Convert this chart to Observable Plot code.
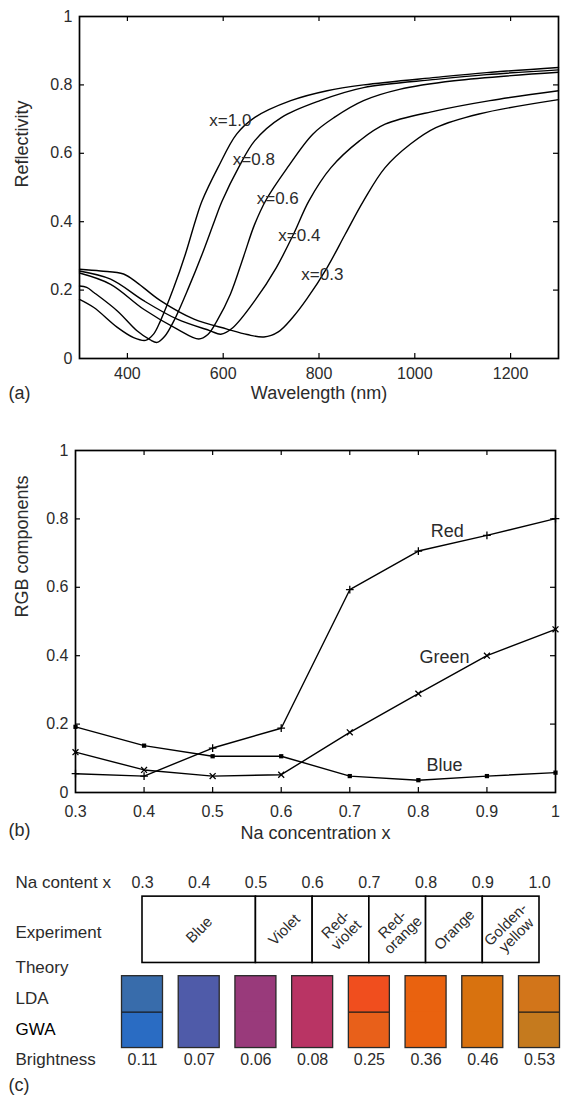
<!DOCTYPE html>
<html>
<head>
<meta charset="utf-8">
<script src="https://cdn.jsdelivr.net/npm/d3@7"></script>
<script src="https://cdn.jsdelivr.net/npm/@observablehq/plot@0.6"></script>
<style>
  body { margin: 0; background: #fff; }
  #wrap { position: relative; width: 567px; height: 1099px; overflow: hidden; background: #fff; }
  .panel { position: absolute; left: 0; }
</style>
</head>
<body>
<div id="wrap">
  <div class="panel" id="pa" style="top:0px"></div>
  <div class="panel" id="pb" style="top:430px"></div>
  <div class="panel" id="pc" style="top:860px"></div>
</div>
<script>
// ---------------- DATA ----------------
// Panel (a): reflectivity curves
const curveNames = ["x=1.0", "x=0.8", "x=0.6", "x=0.4", "x=0.3"];
const wl10 = [300,330,379,413,438,455,469,497,521,542,556,589,628,666,741,817,893,1044,1150,1300];
const r10  = [0.173,0.149,0.091,0.061,0.053,0.072,0.11,0.208,0.305,0.403,0.461,0.558,0.656,0.705,0.754,0.783,0.80,0.822,0.836,0.851];
const wl08 = [300,315,330,379,420,447,462,478,497,528,556,582,598,632,666,722,802,893,1044,1150,1300];
const r08  = [0.212,0.208,0.193,0.139,0.081,0.055,0.047,0.065,0.11,0.208,0.305,0.403,0.461,0.558,0.637,0.705,0.754,0.792,0.816,0.83,0.844];
const wl06 = [300,365,434,504,549,568,587,615,643,665,690,734,787,832,893,968,1082,1300];
const r06  = [0.25,0.217,0.144,0.086,0.057,0.07,0.11,0.188,0.30,0.39,0.465,0.558,0.656,0.705,0.754,0.787,0.812,0.837];
const wl04 = [300,365,434,504,573,595,620,666,711,747,779,825,885,938,1044,1157,1300];
const r04  = [0.256,0.232,0.169,0.115,0.081,0.071,0.09,0.169,0.266,0.364,0.461,0.558,0.637,0.685,0.724,0.754,0.783];
const wl03 = [300,344,392,420,469,539,608,650,685,715,745,775,817,855,893,938,991,1044,1134,1300];
const r03  = [0.261,0.256,0.247,0.222,0.169,0.115,0.086,0.07,0.063,0.078,0.12,0.175,0.266,0.364,0.461,0.558,0.627,0.675,0.715,0.757];
const curveLabelWl = [571, 620, 670, 715, 763];
const curveLabelR  = [0.695, 0.581, 0.467, 0.36, 0.246];
const xTicksA = [400, 600, 800, 1000, 1200];
const yTicksA = [0, 0.2, 0.4, 0.6, 0.8, 1];

// Panel (b): RGB components
const naConc    = [0.3, 0.4, 0.5, 0.6, 0.7, 0.8, 0.9, 1.0];
const redComp   = [0.055, 0.048, 0.130, 0.188, 0.593, 0.706, 0.752, 0.801];
const greenComp = [0.118, 0.066, 0.048, 0.052, 0.176, 0.289, 0.400, 0.477];
const blueComp  = [0.192, 0.137, 0.106, 0.106, 0.048, 0.036, 0.048, 0.058];
const seriesNames = ["Red", "Green", "Blue"];
const seriesLabelX = [0.842, 0.838, 0.838];
const seriesLabelY = [0.764, 0.396, 0.080];
const xTicksB = [0.3, 0.4, 0.5, 0.6, 0.7, 0.8, 0.9, 1];
const yTicksB = [0, 0.2, 0.4, 0.6, 0.8, 1];

// Panel (c): colour table
const naContent = ["0.3", "0.4", "0.5", "0.6", "0.7", "0.8", "0.9", "1.0"];
const expNames = ["Blue", "Violet", "Red-\nviolet", "Red-\norange", "Orange", "Golden-\nyellow"];
const expFrom  = [0.3, 0.5, 0.6, 0.7, 0.8, 0.9];
const expTo    = [0.5, 0.6, 0.7, 0.8, 0.9, 1.0];
const ldaColors = ["#386cab", "#4f5ba9", "#993a7b", "#b93464", "#f04e1e", "#e9620f", "#d8720f", "#d2751a"];
const gwaColors = ["#2a6cc3", "#4f5ba9", "#993a7b", "#b93464", "#e8601a", "#e9620f", "#d8720f", "#c57a1e"];
const brightness = ["0.11", "0.07", "0.06", "0.08", "0.25", "0.36", "0.46", "0.53"];
const rowNames = ["Na content x", "Experiment", "Theory", "LDA", "GWA", "Brightness"];

// ---------------- STYLE ----------------
const FONT = "'Liberation Sans', Arial, Helvetica, sans-serif";
const INK = "#2b2b2b";
const NUM = 16;   // numbers
const WORD = 18;  // words
const baseStyle = {fontFamily: FONT, fontSize: "16px", color: INK, background: "transparent", overflow: "visible"};
const fmt = d => `${d}`;

// ---------------- PANEL (a) ----------------
{
  const W = 567, H = 410, mL = 79, mR = 9, mT = 16, mB = 52;
  const tlx = 5 * 1000 / (W - mL - mR);
  const tly = 5 * 1 / (H - mT - mB);
  const curves = [];
  [[wl10, r10], [wl08, r08], [wl06, r06], [wl04, r04], [wl03, r03]].forEach(([w, r], k) => {
    w.forEach((v, i) => curves.push({name: curveNames[k], wl: v, r: r[i]}));
  });
  const labels = curveNames.map((t, i) => ({t, wl: curveLabelWl[i], r: curveLabelR[i]}));
  const inner = yTicksA.filter(d => d > 0 && d < 1);
  const chart = Plot.plot({
    width: W, height: H, marginLeft: mL, marginRight: mR, marginTop: mT, marginBottom: mB,
    style: baseStyle,
    x: {domain: [300, 1300]},
    y: {domain: [0, 1]},
    marks: [
      Plot.axisX(xTicksA, {tickSize: 0, tickPadding: 9, label: null, tickFormat: fmt, fontSize: NUM, fill: INK}),
      Plot.axisY(yTicksA, {tickSize: 0, tickPadding: 7, label: null, tickFormat: fmt, fontSize: NUM, fill: INK}),
      Plot.ruleX(xTicksA, {x: d => d, y1: 0, y2: tly, stroke: "black", strokeWidth: 1.2}),
      Plot.ruleX(xTicksA, {x: d => d, y1: 1, y2: 1 - tly, stroke: "black", strokeWidth: 1.2}),
      Plot.ruleY(inner, {y: d => d, x1: 300, x2: 300 + tlx, stroke: "black", strokeWidth: 1.2}),
      Plot.ruleY(inner, {y: d => d, x1: 1300, x2: 1300 - tlx, stroke: "black", strokeWidth: 1.2}),
      Plot.line(curves, {x: "wl", y: "r", z: "name", curve: "catmull-rom", stroke: "black", strokeWidth: 1.4}),
      Plot.text(labels, {x: "wl", y: "r", text: "t", textAnchor: "start", fontSize: 17, fill: INK}),
      Plot.frame({stroke: "black", strokeWidth: 1.7}),
      Plot.text(["Wavelength (nm)"], {frameAnchor: "bottom", dy: 40, fontSize: WORD, fill: INK}),
      Plot.text(["Reflectivity"], {frameAnchor: "left", dx: -57, rotate: -90, fontSize: WORD, fill: INK}),
      Plot.text(["(a)"], {frameAnchor: "bottom-left", dx: 8 - mL, dy: 40, textAnchor: "start", fontSize: WORD, fill: INK})
    ]
  });
  document.getElementById("pa").appendChild(chart);
}

// ---------------- PANEL (b) ----------------
{
  const W = 567, H = 420, mL = 75, mR = 12, mT = 20, mB = 58;
  const tlx = 5 * 0.7 / (W - mL - mR);
  const tly = 5 * 1 / (H - mT - mB);
  const pts = [];
  [redComp, greenComp, blueComp].forEach((arr, k) => {
    arr.forEach((v, i) => pts.push({s: seriesNames[k], x: naConc[i], y: v}));
  });
  const labels = seriesNames.map((t, i) => ({t, x: seriesLabelX[i], y: seriesLabelY[i]}));
  const innerX = xTicksB.filter(d => d > 0.3 && d < 1);
  const innerY = yTicksB.filter(d => d > 0 && d < 1);
  const chart = Plot.plot({
    width: W, height: H, marginLeft: mL, marginRight: mR, marginTop: mT, marginBottom: mB,
    style: baseStyle,
    x: {domain: [0.3, 1]},
    y: {domain: [0, 1]},
    marks: [
      Plot.axisX(xTicksB, {tickSize: 0, tickPadding: 13, label: null, tickFormat: fmt, fontSize: NUM, fill: INK}),
      Plot.axisY(yTicksB, {tickSize: 0, tickPadding: 7, label: null, tickFormat: fmt, fontSize: NUM, fill: INK}),
      Plot.ruleX(innerX, {x: d => d, y1: 0, y2: tly, stroke: "black", strokeWidth: 1.2}),
      Plot.ruleX(innerX, {x: d => d, y1: 1, y2: 1 - tly, stroke: "black", strokeWidth: 1.2}),
      Plot.ruleY(innerY, {y: d => d, x1: 0.3, x2: 0.3 + tlx, stroke: "black", strokeWidth: 1.2}),
      Plot.ruleY(innerY, {y: d => d, x1: 1, x2: 1 - tlx, stroke: "black", strokeWidth: 1.2}),
      Plot.line(pts, {x: "x", y: "y", z: "s", stroke: "black", strokeWidth: 1.4}),
      Plot.dot(pts.filter(d => d.s === "Red"), {x: "x", y: "y", symbol: "plus", r: 2.6, stroke: "black", strokeWidth: 1.3}),
      Plot.dot(pts.filter(d => d.s === "Green"), {x: "x", y: "y", symbol: "times", r: 2.8, stroke: "black", strokeWidth: 1.3}),
      Plot.dot(pts.filter(d => d.s === "Blue"), {x: "x", y: "y", symbol: "square", r: 2.4, fill: "black", stroke: "none"}),
      Plot.text(labels, {x: "x", y: "y", text: "t", fontSize: WORD, fill: INK}),
      Plot.frame({stroke: "black", strokeWidth: 1.7}),
      Plot.text(["Na concentration x"], {frameAnchor: "bottom", dy: 46, fontSize: WORD, fill: INK}),
      Plot.text(["RGB components"], {frameAnchor: "left", dx: -53, dy: -4, rotate: -90, fontSize: WORD, fill: INK}),
      Plot.text(["(b)"], {frameAnchor: "bottom-left", dx: 8 - mL, dy: 43, textAnchor: "start", fontSize: WORD, fill: INK})
    ]
  });
  document.getElementById("pb").appendChild(chart);
}

// ---------------- PANEL (c) ----------------
{
  const W = 567, H = 239, mL = 142, mR = 28, mT = 22, mB = 2;
  const unitX = (W - mL - mR) / 0.7;          // px per Na unit
  const hw = 20.5 / unitX;                     // half swatch width in data units
  // row layout (row units, 1 unit ≈ 30.7 px)
  const rowYs = [0, 1.63, 2.77, 3.79, 4.79, 5.78];
  const tagY = 6.6;
  const tableTop = 0.46, tableBot = 2.62;
  const swTop = 3.05, swMid = 4.22, swBot = 5.39;
  const na = naContent.map(Number);
  const sw = na.map((x, i) => ({x, lda: ldaColors[i], gwa: gwaColors[i], b: brightness[i]}));
  const exp = expNames.map((t, i) => ({t, a: expFrom[i], b: expTo[i]}));
  const rows = rowNames.map((t, i) => ({t, y: rowYs[i], fill: t === "GWA" ? "#000" : INK}));
  const chart = Plot.plot({
    width: W, height: H, marginLeft: mL, marginRight: mR, marginTop: mT, marginBottom: mB,
    style: baseStyle,
    x: {domain: [0.3, 1.0], axis: null},
    y: {domain: [0, 7], reverse: true, axis: null},
    marks: [
      Plot.text(rows, {y: "y", frameAnchor: "left", dx: 15 - mL, text: "t", textAnchor: "start", fontSize: 17, fill: "fill"}),
      Plot.text(["(c)"], {y: tagY, frameAnchor: "left", dx: 8 - mL, textAnchor: "start", fontSize: WORD, fill: INK}),
      Plot.text(naContent, {x: d => +d, y: rowYs[0], text: d => d, fontSize: NUM, fill: INK}),
      Plot.rect(exp, {x1: "a", x2: "b", y1: tableTop, y2: tableBot, fill: "white", stroke: "black", strokeWidth: 1.6}),
      Plot.text(exp, {x: d => (d.a + d.b) / 2, y: (tableTop + tableBot) / 2, text: "t", rotate: -45, fontSize: 15, lineHeight: 1.0, fill: INK}),
      Plot.rect(sw, {x1: d => d.x - hw, x2: d => d.x + hw, y1: swTop, y2: swBot, fill: "gwa"}),
      Plot.rect(sw, {x1: d => d.x - hw, x2: d => d.x + hw, y1: swTop, y2: swMid, fill: "lda"}),
      Plot.ruleY(sw.filter(d => d.lda !== d.gwa), {y: swMid, x1: d => d.x - hw, x2: d => d.x + hw, stroke: "#1a1a1a", strokeWidth: 1.3}),
      Plot.rect(sw, {x1: d => d.x - hw, x2: d => d.x + hw, y1: swTop, y2: swBot, fill: "none", stroke: "#2a2a2a", strokeWidth: 1.3}),
      Plot.text(sw, {x: "x", y: rowYs[5], text: "b", fontSize: NUM, fill: INK})
    ]
  });
  document.getElementById("pc").appendChild(chart);
}
</script>
</body>
</html>
